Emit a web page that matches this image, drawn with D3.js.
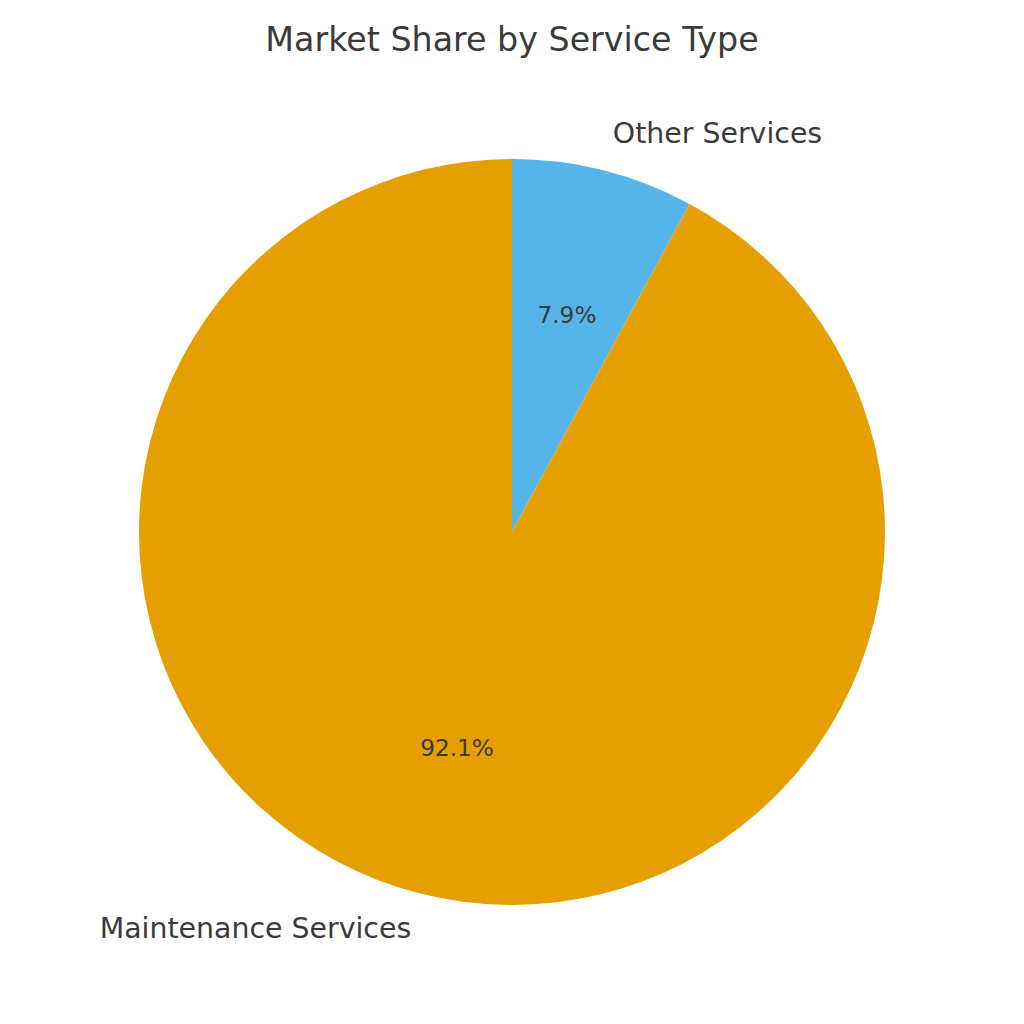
<!DOCTYPE html>
<html><head><meta charset="utf-8">
<script src="https://cdn.jsdelivr.net/npm/d3@7"></script>
<style>body{margin:0;background:#fff}</style>
</head><body>
<svg id="c" width="1024" height="1024"></svg>
<script>
const categories = ["Other Services", "Maintenance Services"];
const shares = [7.9, 92.1];
const colors = ["#56B4E9", "#E69F00"];
const title = "Market Share by Service Type";

const svg = d3.select("#c");
const cx = 512, cy = 532, R = 373;
const font = "DejaVu Sans, sans-serif";
const textColor = "#3a3a3a";

svg.append("text").attr("x", 512).attr("y", 51).attr("text-anchor", "middle")
  .attr("font-family", font).attr("font-size", 33.3).attr("fill", textColor).text(title);

const data = categories.map((c, i) => ({cat: c, v: shares[i], col: colors[i]}));
const pie = d3.pie().value(d => d.v).sort(null);
const arcs = pie(data);
const arc = d3.arc().innerRadius(0).outerRadius(R);
const g = svg.append("g").attr("transform", `translate(${cx},${cy})`);
g.selectAll("path").data(arcs).join("path").attr("d", arc).attr("fill", d => d.data.col);

const total = d3.sum(shares);
arcs.forEach(a => {
  const m = (a.startAngle + a.endAngle) / 2;
  const sx = Math.sin(m), sy = -Math.cos(m);
  g.append("text").attr("x", sx * R * 1.1).attr("y", sy * R * 1.1 - 1)
    .attr("text-anchor", sx >= 0 ? "start" : "end").attr("dominant-baseline", "central")
    .attr("font-family", font).attr("font-size", 28.4).attr("fill", textColor).text(a.data.cat);
  g.append("text").attr("x", sx * R * 0.6).attr("y", sy * R * 0.6 - 1)
    .attr("text-anchor", "middle").attr("dominant-baseline", "central")
    .attr("font-family", font).attr("font-size", 23.2).attr("fill", textColor)
    .text((a.data.v / total * 100).toFixed(1) + "%");
});
</script>
</body></html>
